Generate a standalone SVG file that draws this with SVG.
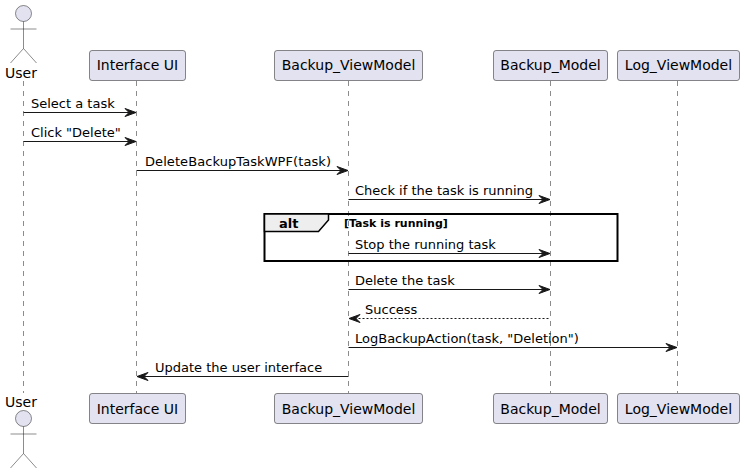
<svg xmlns="http://www.w3.org/2000/svg" width="744" height="474" viewBox="0 0 744 474">
<style>
text{font-family:"DejaVu Sans",sans-serif;font-size:13px;fill:#000}
.life{stroke:#181818;stroke-width:.5;stroke-dasharray:5,5;fill:none}
.box{fill:#E2E2F0;stroke:#181818;stroke-width:.5}
.actor{fill:none;stroke:#181818;stroke-width:.5}
.head{fill:#E2E2F0;stroke:#181818;stroke-width:.5}
.msg{stroke:#181818;stroke-width:1;fill:none}
.tip{fill:#181818;stroke:#181818;stroke-width:1}
.ctr{text-anchor:middle;font-size:14px}
.name{font-size:14px}
</style>
<defs>
<marker id="ar" markerUnits="userSpaceOnUse" markerWidth="13" markerHeight="10" refX="12" refY="5" orient="auto-start-reverse">
<path d="M1,1 L12,5 L1,9 L5,5 Z" class="tip"/>
</marker>
</defs>
<g id="lifelines">
<path class="life" d="M23.5,81V393"/>
<path class="life" d="M136.5,81V393"/>
<path class="life" d="M348.5,81V393"/>
<path class="life" d="M550.5,81V393"/>
<path class="life" d="M677.5,81V393"/>
</g>
<g id="frame-alt">
<rect x="264.5" y="214" width="353" height="47" fill="none" stroke="#000" stroke-width="2"/>
<path d="M264.5,214H328.5V220L318.5,231.5H264.5Z" fill="#EEEEEE" stroke="#000" stroke-width="1.5"/>
<text x="279" y="228" style="font-weight:bold">alt</text>
<text x="344" y="227" style="font-weight:bold;font-size:11px">[Task is running]</text>
</g>
<g id="connectors">
<path class="msg" marker-end="url(#ar)" d="M23.5,112.5H136"/>
<text x="31" y="107.5">Select a task</text>
<path class="msg" marker-end="url(#ar)" d="M23.5,141.5H136"/>
<text x="31" y="136.5">Click "Delete"</text>
<path class="msg" marker-end="url(#ar)" d="M136.5,170.5H348"/>
<text x="145" y="165.5" textLength="186">DeleteBackupTaskWPF(task)</text>
<path class="msg" marker-end="url(#ar)" d="M348.5,199.5H550"/>
<text x="355" y="194.5">Check if the task is running</text>
<path class="msg" marker-end="url(#ar)" d="M348.5,253.5H550"/>
<text x="355" y="248.5">Stop the running task</text>
<path class="msg" marker-end="url(#ar)" d="M348.5,289.5H550"/>
<text x="355" y="284.5">Delete the task</text>
<path class="msg" stroke-dasharray="2,2" marker-end="url(#ar)" d="M548.5,318.5H349"/>
<text x="365" y="313.5">Success</text>
<path class="msg" marker-end="url(#ar)" d="M348.5,347.5H677"/>
<text x="355" y="342.5">LogBackupAction(task, "Deletion")</text>
<path class="msg" marker-end="url(#ar)" d="M348.5,376.5H137"/>
<text x="155" y="371.5">Update the user interface</text>
</g>
<g id="user-top">
<circle class="head" cx="23.5" cy="13.5" r="8"/>
<path class="actor" d="M23.5,21.5V48.5M10.5,29H36.5M23.5,48.5L10.5,63M23.5,48.5L36.5,63"/>
<text class="name" x="5" y="78">User</text>
</g>
<g id="user-bottom">
<text class="name" x="5" y="407">User</text>
<circle class="head" cx="23.5" cy="418.5" r="8"/>
<path class="actor" d="M23.5,426.5V453.5M10.5,434H36.5M23.5,453.5L10.5,468M23.5,453.5L36.5,468"/>
</g>
<g id="interface-top"><rect class="box" x="89.5" y="50.5" width="96" height="30" rx="2.5"/><text class="ctr" x="137.5" y="70">Interface UI</text></g>
<g id="viewmodel-top"><rect class="box" x="274.5" y="50.5" width="148" height="30" rx="2.5"/><text class="ctr" x="348.5" y="70">Backup_ViewModel</text></g>
<g id="model-top"><rect class="box" x="493.5" y="50.5" width="114" height="30" rx="2.5"/><text class="ctr" x="550.5" y="70">Backup_Model</text></g>
<g id="log-top"><rect class="box" x="617.5" y="50.5" width="122" height="30" rx="2.5"/><text class="ctr" x="678.5" y="70">Log_ViewModel</text></g>
<g id="interface-bottom"><rect class="box" x="89.5" y="393.5" width="96" height="30" rx="2.5"/><text class="ctr" x="137.5" y="413.5">Interface UI</text></g>
<g id="viewmodel-bottom"><rect class="box" x="274.5" y="393.5" width="148" height="30" rx="2.5"/><text class="ctr" x="348.5" y="413.5">Backup_ViewModel</text></g>
<g id="model-bottom"><rect class="box" x="493.5" y="393.5" width="114" height="30" rx="2.5"/><text class="ctr" x="550.5" y="413.5">Backup_Model</text></g>
<g id="log-bottom"><rect class="box" x="617.5" y="393.5" width="122" height="30" rx="2.5"/><text class="ctr" x="678.5" y="413.5">Log_ViewModel</text></g>
</svg>
